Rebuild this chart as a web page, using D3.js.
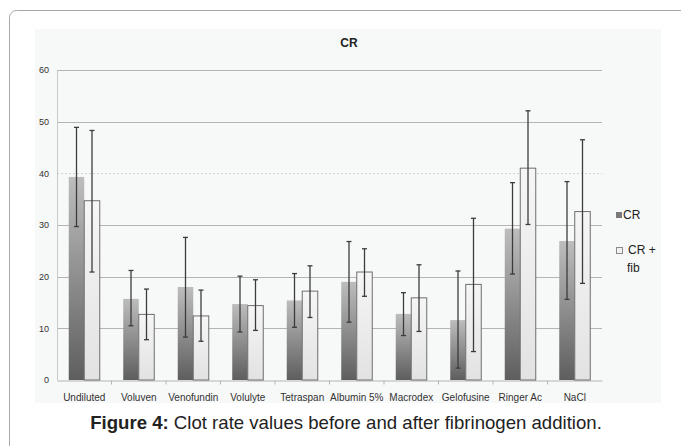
<!DOCTYPE html>
<html>
<head>
<meta charset="utf-8">
<script src="https://cdn.jsdelivr.net/npm/d3@7"></script>
<style>
  body { margin: 0; background: #fff; }
  svg { display: block; font-family: 'Liberation Sans', Arial, sans-serif; }
</style>
</head>
<body>
<div id="chart"></div>
<script>
var categories = ['Undiluted', 'Voluven', 'Venofundin', 'Volulyte', 'Tetraspan',
                  'Albumin 5%', 'Macrodex', 'Gelofusine', 'Ringer Ac', 'NaCl'];
var series = ['CR', 'CR + fib'];
var crValues = [39.3, 15.7, 18.0, 14.7, 15.4, 19.0, 12.8, 11.6, 29.3, 26.9];
var crLow = [29.7, 10.5, 8.3, 9.3, 10.2, 11.2, 8.6, 2.3, 20.5, 15.6];
var crHigh = [48.9, 21.2, 27.6, 20.1, 20.6, 26.8, 16.9, 21.1, 38.2, 38.4];
var fibValues = [34.7, 12.7, 12.4, 14.4, 17.2, 20.9, 15.9, 18.5, 41.0, 32.6];
var fibLow = [20.9, 7.8, 7.5, 9.6, 12.1, 16.2, 9.4, 5.5, 30.1, 18.7];
var fibHigh = [48.3, 17.6, 17.4, 19.4, 22.1, 25.4, 22.3, 31.3, 52.1, 46.5];
var yTicks = [0, 10, 20, 30, 40, 50, 60];

var W = 681, H = 446;
var plot = {left: 57, right: 602, top: 70, bottom: 380};

var svg = d3.select('#chart').append('svg')
  .attr('width', W)
  .attr('height', H);

var defs = svg.append('defs');
var gCr = defs.append('linearGradient').attr('id', 'gradCr')
  .attr('x1', 0).attr('y1', 0).attr('x2', 0).attr('y2', 1);
gCr.append('stop').attr('offset', '0%').attr('stop-color', '#bdbdbd');
gCr.append('stop').attr('offset', '100%').attr('stop-color', '#5e5e5e');
var gFib = defs.append('linearGradient').attr('id', 'gradFib')
  .attr('x1', 0).attr('y1', 0).attr('x2', 0).attr('y2', 1);
gFib.append('stop').attr('offset', '0%').attr('stop-color', '#f6f6f6');
gFib.append('stop').attr('offset', '100%').attr('stop-color', '#e2e2e2');

// outer frame
svg.append('rect')
  .attr('x', 9.5).attr('y', 10.5)
  .attr('width', 700).attr('height', 460)
  .attr('rx', 7)
  .style('fill', '#fff')
  .style('stroke', '#a8a8a8')
  .style('stroke-width', 1);

// chart panel
svg.append('rect')
  .attr('x', 35).attr('y', 29)
  .attr('width', 626).attr('height', 374)
  .style('fill', '#f7f8f8');

svg.append('text')
  .attr('x', 349).attr('y', 47)
  .attr('text-anchor', 'middle')
  .style('font-size', '12px')
  .style('font-weight', 'bold')
  .style('fill', '#222')
  .text('CR');

var x = d3.scaleBand().domain(categories).range([plot.left, plot.right]);
var y = d3.scaleLinear().domain([0, 60]).range([plot.bottom, plot.top]);
var x1 = d3.scaleBand().domain(series).range([x.bandwidth() / 2 - 15.5, x.bandwidth() / 2 + 15.5]);

// gridlines
svg.append('g')
  .selectAll('line')
  .data(yTicks.filter((d) => d > 0))
  .enter()
  .append('line')
  .attr('x1', plot.left).attr('x2', plot.right)
  .attr('y1', (d) => Math.round(y(d)) + 0.5)
  .attr('y2', (d) => Math.round(y(d)) + 0.5)
  .style('stroke', (d) => d === 40 ? '#d4d4d4' : '#b4b4b4')
  .style('stroke-dasharray', (d) => d === 40 ? '2,2' : null)
  .style('stroke-width', 1);

// y axis
var yAxis = svg.append('g')
  .attr('transform', 'translate(' + plot.left + ',0)')
  .call(d3.axisLeft(y).tickValues(yTicks).tickSize(0).tickPadding(8));
yAxis.select('.domain').style('stroke', '#c8c8c8');
yAxis.selectAll('text').style('font-size', '9px').style('fill', '#333')
  .style('font-family', "'Liberation Sans', Arial, sans-serif");

// x axis
var xAxis = svg.append('g')
  .attr('transform', 'translate(0,' + (plot.bottom + 0.5) + ')')
  .call(d3.axisBottom(x).tickSize(0).tickPadding(13));
xAxis.select('.domain').style('stroke', '#b4b4b4');
xAxis.selectAll('text').style('font-size', '10px').style('fill', '#333')
  .style('font-family', "'Liberation Sans', Arial, sans-serif");
xAxis.selectAll('.sep')
  .data(categories.slice(1))
  .enter()
  .append('line')
  .attr('class', 'sep')
  .attr('x1', (d) => x(d)).attr('x2', (d) => x(d))
  .attr('y1', 0).attr('y2', 4)
  .style('stroke', '#b4b4b4');

var rows = categories.map(function(c, i) {
  return [
    {cat: c, s: 'CR', v: crValues[i], lo: crLow[i], hi: crHigh[i]},
    {cat: c, s: 'CR + fib', v: fibValues[i], lo: fibLow[i], hi: fibHigh[i]}
  ];
});
var flat = [].concat.apply([], rows);

var marks = svg.append('g');

marks.selectAll('rect.bar')
  .data(flat)
  .enter()
  .append('rect')
  .attr('class', 'bar')
  .attr('x', (d) => x(d.cat) + x1(d.s))
  .attr('y', (d) => y(d.v))
  .attr('width', x1.bandwidth())
  .attr('height', (d) => y(0) - y(d.v))
  .style('fill', (d) => d.s === 'CR' ? 'url(#gradCr)' : 'url(#gradFib)')
  .style('stroke', (d) => d.s === 'CR' ? 'none' : '#6e6e6e')
  .style('stroke-width', 1);

var errs = marks.selectAll('g.err')
  .data(flat)
  .enter()
  .append('g')
  .attr('class', 'err')
  .style('stroke', '#3c3c3c')
  .style('stroke-width', 1.3);

errs.append('line')
  .attr('x1', (d) => x(d.cat) + x1(d.s) + x1.bandwidth() / 2)
  .attr('x2', (d) => x(d.cat) + x1(d.s) + x1.bandwidth() / 2)
  .attr('y1', (d) => y(d.lo))
  .attr('y2', (d) => y(d.hi));
errs.selectAll('line.cap')
  .data((d) => [d.lo, d.hi].map((v) => ({d: d, v: v})))
  .enter()
  .append('line')
  .attr('class', 'cap')
  .attr('x1', (e) => x(e.d.cat) + x1(e.d.s) + x1.bandwidth() / 2 - 2.5)
  .attr('x2', (e) => x(e.d.cat) + x1(e.d.s) + x1.bandwidth() / 2 + 2.5)
  .attr('y1', (e) => y(e.v))
  .attr('y2', (e) => y(e.v));

// legend
var legend = svg.append('g');
legend.append('rect')
  .attr('x', 616).attr('y', 212).attr('width', 6).attr('height', 6)
  .style('fill', '#7a7a7a');
legend.append('text')
  .attr('x', 623).attr('y', 219)
  .style('font-size', '12px').style('fill', '#222')
  .text('CR');
legend.append('rect')
  .attr('x', 616.5).attr('y', 247.5).attr('width', 6).attr('height', 6)
  .style('fill', '#f2f2f2').style('stroke', '#8a8a8a');
legend.append('text')
  .attr('x', 628).attr('y', 254)
  .style('font-size', '12px').style('fill', '#222')
  .text('CR +');
legend.append('text')
  .attr('x', 627).attr('y', 272)
  .style('font-size', '12px').style('fill', '#222')
  .text('fib');

// caption
var cap = svg.append('text')
  .attr('x', 346).attr('y', 429)
  .attr('text-anchor', 'middle')
  .style('font-size', '18.6px')
  .style('fill', '#222');
cap.append('tspan').style('font-weight', 'bold').text('Figure 4:');
cap.append('tspan').text(' Clot rate values before and after fibrinogen addition.');
</script>
</body>
</html>
